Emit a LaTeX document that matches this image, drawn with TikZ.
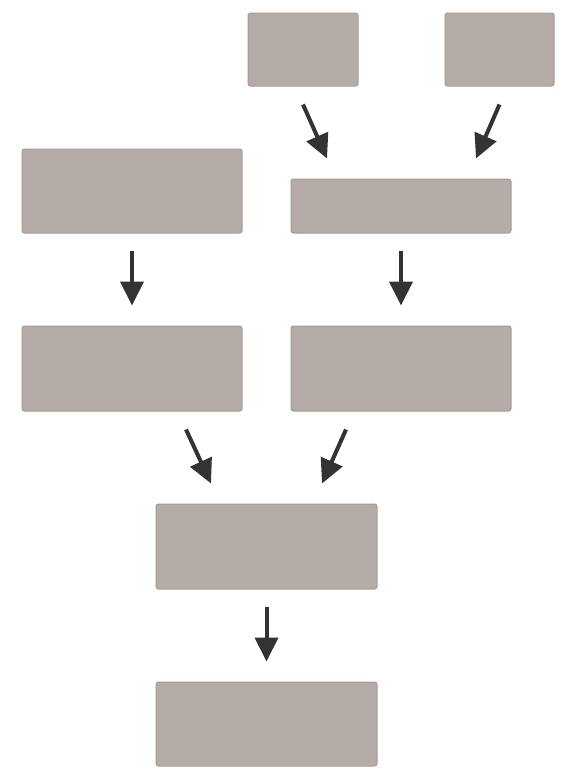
\documentclass[tikz,border=0pt]{standalone}
\usetikzlibrary{arrows.meta,calc}
\definecolor{boxgray}{HTML}{B5ABA7}
\definecolor{boxline}{HTML}{A69A96}
\definecolor{arrowdark}{HTML}{333333}
\tikzset{
  blockbox/.style={draw=boxline,fill=boxgray,line width=1pt,rounded corners=2.5pt,inner sep=0pt},
  flowarrow/.style={draw=arrowdark,line width=4pt,-{Triangle[width=23pt,length=24pt]}}
}

\begin{document}
\begin{tikzpicture}[x=1pt,y=-1pt]
\useasboundingbox (0,0) rectangle (567,782);
% top row
\node[blockbox,minimum width=110,minimum height=73] (srcA) at (303,49.5) {};
\node[blockbox,minimum width=109,minimum height=73] (srcB) at (499.5,49.5) {};
% second row
\node[blockbox,minimum width=220,minimum height=84] (left1) at (132,191) {};
\node[blockbox,minimum width=220,minimum height=54] (merge1) at (401,206) {};
% third row
\node[blockbox,minimum width=220,minimum height=85] (left2) at (132,368.5) {};
\node[blockbox,minimum width=220,minimum height=85] (right2) at (401,368.5) {};
% bottom
\node[blockbox,minimum width=221,minimum height=85] (join) at (266.5,546.5) {};
\node[blockbox,minimum width=221,minimum height=84] (result) at (266.5,724) {};
% arrows
\draw[flowarrow] ($(srcA.south)+(0,18)$) -- ($(merge1.north)+(-74,-20)$);
\draw[flowarrow] ($(srcB.south)+(0,18)$) -- ($(merge1.north)+(75,-20)$);
\draw[flowarrow,shorten <=17pt,shorten >=20pt] (left1.south) -- (left2.north);
\draw[flowarrow,shorten <=17pt,shorten >=20pt] (merge1.south) -- (right2.north);
\draw[flowarrow] ($(left2.south)+(54,18)$) -- ($(join.north)+(-55.5,-20)$);
\draw[flowarrow] ($(right2.south)+(-55,18)$) -- ($(join.north)+(55.5,-20)$);
\draw[flowarrow,shorten <=17pt,shorten >=20pt] (join.south) -- (result.north);
\end{tikzpicture}
\end{document}
